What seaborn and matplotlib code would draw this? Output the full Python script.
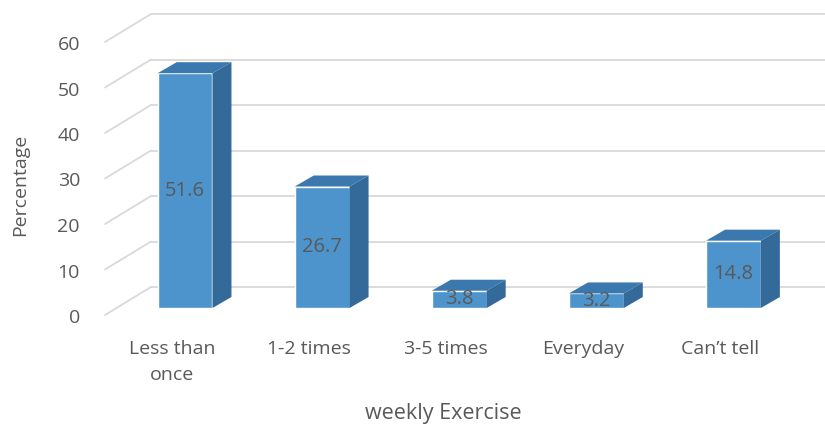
import matplotlib
matplotlib.use("Agg")
import matplotlib.pyplot as plt
from matplotlib import transforms
from matplotlib.patches import Polygon
import pandas as pd
import seaborn as sns

# data
categories = ["Less than\nonce", "1-2 times", "3-5 times", "Everyday", "Can\u2019t tell"]
percent = [51.6, 26.7, 3.8, 3.2, 14.8]
yticks = [0, 10, 20, 30, 40, 50, 60]

df = pd.DataFrame({"cat": categories, "pct": percent})

sns.set_style("white")
plt.rcParams["font.family"] = ["Open Sans", "DejaVu Sans"]

W, H = 825, 426
fig = plt.figure(figsize=(W / 100, H / 100), dpi=100)
# axes = front plane of the bars
ax_left, ax_w = 116.5, 685.5
ax_bot, ax_h = H - 308, 273
ax = fig.add_axes([ax_left / W, ax_bot / H, ax_w / W, ax_h / H])

front = "#4E94CC"
top_c = "#3B78AE"
side_c = "#336A99"
txt = "#595959"

sns.barplot(data=df, x="cat", y="pct", width=0.4, color=front,
            saturation=1, ax=ax, zorder=3)
ax.set_xlim(-0.5, 4.5)
ax.set_ylim(0, 60)
for s in ax.spines.values():
    s.set_visible(False)

# px -> data conversions
px_x = 5.0 / ax_w
px_y = 60.0 / ax_h

# 3d faces of bars
ddx, ddy = 19 * px_x, 11 * px_y
for p in ax.patches[:]:
    x0 = p.get_x()
    x1 = x0 + p.get_width()
    h = p.get_height()
    topf = Polygon([(x0, h), (x1, h), (x1 + ddx, h + ddy), (x0 + ddx, h + ddy)],
                   closed=True, facecolor=top_c, edgecolor="none", zorder=3)
    sidef = Polygon([(x1, 0), (x1, h), (x1 + ddx, h + ddy), (x1 + ddx, ddy)],
                    closed=True, facecolor=side_c, edgecolor="none", zorder=3)
    ax.add_patch(topf)
    ax.add_patch(sidef)
    ax.text(x0 + p.get_width() / 2, h / 2, f"{h:.1f}", ha="center", va="center",
            fontsize=14.5, color="#595959", zorder=5)

# back wall gridlines + side wall diagonals
gc = "#D9D9D9"
bx, by = 34.5 * px_x, 21 * px_y
fx, fy = -11.5 * px_x, -7 * px_y
for v in yticks:
    ax.plot([-0.5 + bx, 5.2], [v + by, v + by], color=gc, lw=1.3,
            zorder=0, clip_on=False)
    ax.plot([-0.5 + fx, -0.5 + bx], [v + fy, v + by], color=gc, lw=1.3,
            zorder=0, clip_on=False)

# ticks
ax.set_yticks(yticks)
ax.set_yticklabels([str(v) for v in yticks])
ax.tick_params(axis="y", length=0, pad=0, labelsize=14, labelcolor=txt)
off_y = transforms.ScaledTranslation(-36.5 / 100, -8 / 100, fig.dpi_scale_trans)
for lab in ax.get_yticklabels():
    lab.set_transform(lab.get_transform() + off_y)

ax.tick_params(axis="x", length=0, pad=18, labelsize=14, labelcolor=txt)
off_x = transforms.ScaledTranslation(-13 / 100, -7 / 100, fig.dpi_scale_trans)
for lab in ax.get_xticklabels():
    lab.set_transform(lab.get_transform() + off_x)
    lab.set_linespacing(1.55)

ax.set_xlabel("")
ax.set_ylabel("")
fig.text(443 / W, 1 - 413 / H, "weekly Exercise", ha="center", va="center",
         fontsize=15.5, color=txt)
fig.text(20 / W, 1 - 185 / H, "Percentage", ha="center", va="center",
         rotation=90, fontsize=14, color=txt)

fig.savefig("out.png", dpi=100, facecolor="white")
